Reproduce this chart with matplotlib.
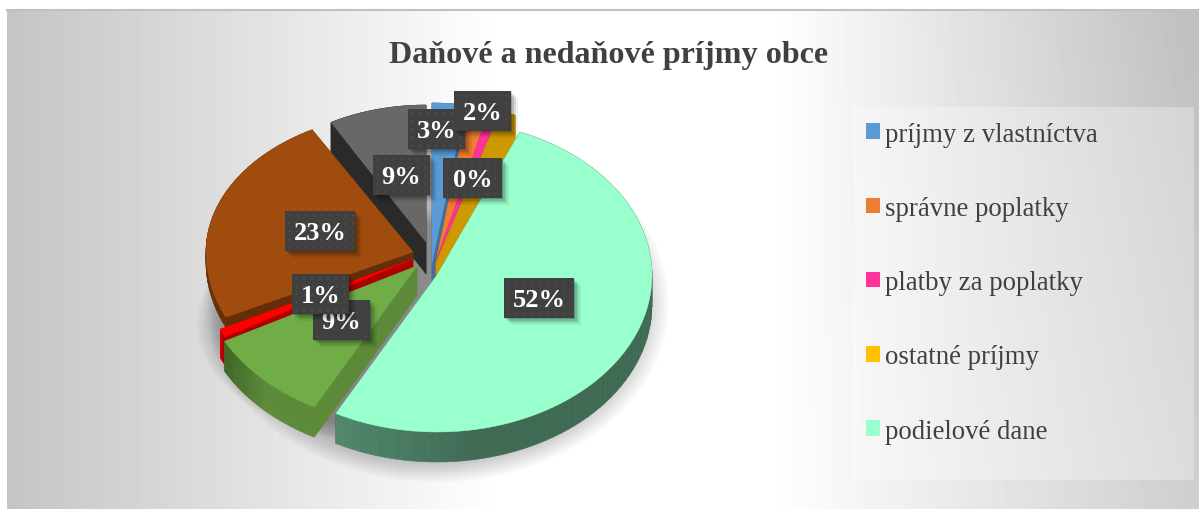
import numpy as np
import matplotlib
matplotlib.use("Agg")
import matplotlib.pyplot as plt
import matplotlib.patches as mpatches
from matplotlib.colors import to_rgb
from matplotlib.patches import Polygon, Rectangle, Ellipse

plt.rcParams['font.family'] = ['Liberation Serif', 'DejaVu Serif']

# clockwise from 12 o'clock, in percent
slice_names = ["vlastnictvo", "spravne", "platby", "ostatne", "podielove", "zelena", "cervena", "hneda", "seda"]
slice_values = [2.6, 1.7, 0.8, 1.2, 51.5, 9.4, 0.8, 23.9, 8.1]

legend_labels = ["príjmy z vlastníctva", "správne poplatky", "platby za poplatky", "ostatné príjmy", "podielové dane"]
legend_colors = ["#5b9bd5", "#ed7d31", "#ff3399", "#ffc000", "#99ffcc"]

label_texts = ["3%", "2%", "0%", "52%", "9%", "1%", "23%", "9%"]

title = "Daňové a nedaňové príjmy obce"

# styles
top_colors = ["#5b9bd5", "#ed7d31", "#ff3399", "#cc9900", "#99ffcc", "#70ad47", "#ff0000", "#a04c0f", "#686868"]
wall_colors = ["#3f6f9c", "#a85820", "#b0246c", "#cc9900", "#3f6b55", "#5c8a38", "#b00000", "#652d08", "#2a2a2a"]
wall_left = ["#3f6f9c", "#a85820", "#b0246c", "#cc9900", "#52896e", "#3f6626", "#d00000", "#652d08", "#2a2a2a"]
# apex of each exploded slice and its radii (x, back y, front y), in pixels
apex_x = [432, 436, 436, 436, 437, 417, 413, 413, 426]
apex_y = [264, 262, 262, 264, 276, 267, 260, 253, 243]
rad_x = [205, 205, 205, 205, 215, 218, 213, 207, 195]
rad_back = [160, 160, 160, 160, 155, 155, 165, 140, 137]
rad_front = [160, 160, 160, 160, 157, 160, 165, 153, 137]
depth = [30, 30, 30, 30, 30, 30, 28, 10, 32]
# left/top corner of each label box, same order as label_texts
box_x = [408, 454, 443, 504, 313, 292, 285, 373]
box_y = [110, 92, 159, 279, 301, 275, 212, 156]
box_w = [57, 57, 59, 70, 57, 57, 70, 57]
box_h = 40
draw_order = [8, 0, 1, 2, 3, 7, 6, 5, 4]

fig = plt.figure(figsize=(11.99, 5.10), dpi=100)
ax = fig.add_axes([0, 0, 1, 1])
ax.axis('off')

# chart area background, light in the middle and grey towards both sides
xx, yy = np.meshgrid(np.arange(7, 1199), np.arange(12, 510))
right = np.clip((xx - 770) / 420.0, 0, 1)
shade = 1 - 0.23 * np.clip((500 - xx) / 493.0, 0, 1) - 0.22 * right
shade = shade - 0.03 * right * np.clip((250 - yy) / 240.0, -1, 1)
ax.imshow(shade, cmap='gray', vmin=0, vmax=1, extent=[7, 1199, 510, 12], aspect='auto', zorder=0)
ax.set_xlim(0, 1199)
ax.set_ylim(510, 0)
ax.plot([7, 1199], [11, 11], color='#c0c0c0', lw=1.5, zorder=1)

# legend panel
ax.add_patch(Rectangle((853, 108), 341, 373, fc='white', ec='none', alpha=0.3, zorder=1))

# soft shadow under the pie
for k in np.linspace(1.0, 0.86, 14):
    ax.add_patch(Ellipse((437, 305), 2 * 232 * k, 2 * 178 * k, fc='black', ec='none', alpha=0.018, zorder=2))
for k in np.linspace(1.0, 0.88, 10):
    ax.add_patch(Ellipse((385, 325), 2 * 188 * k, 2 * 118 * k, fc='black', ec='none', alpha=0.025, zorder=2))

# slices
edges = np.cumsum([0] + slice_values) / sum(slice_values) * 2 * np.pi
z = 3
for i in draw_order:
    t = np.linspace(edges[i], edges[i + 1], 80)
    u = np.sin(t)
    v = -np.cos(t)
    px = apex_x[i] + rad_x[i] * u
    py = apex_y[i] + np.where(v < 0, rad_back[i], rad_front[i]) * v
    ax_, ay_ = apex_x[i], apex_y[i]
    d = depth[i]
    # walls first, the top face hides whatever is behind
    wall = wall_colors[i]
    for a in [0, -1]:
        ax.add_patch(Polygon([(ax_, ay_), (px[a], py[a]), (px[a], py[a] + d), (ax_, ay_ + d)],
                             fc=wall, ec=wall, lw=0.3, zorder=z))
    # outer wall in strips, lighter or darker towards the left end
    c0, c1 = np.array(to_rgb(wall_left[i])), np.array(to_rgb(wall))
    span = max(px.max() - px.min(), 1)
    for j in range(len(t) - 1):
        frac = min((px[j] - px.min()) / span * 2.2, 1)
        col = tuple(c0 + (c1 - c0) * frac)
        ax.add_patch(Polygon([(px[j], py[j]), (px[j + 1], py[j + 1]), (px[j + 1], py[j + 1] + d), (px[j], py[j] + d)],
                             fc=col, ec=col, lw=0.4, zorder=z))
    ax.add_patch(Polygon([(ax_, ay_)] + list(zip(px, py)), fc=top_colors[i], ec=top_colors[i], lw=0.3, zorder=z + 0.5))
    z += 1

# data labels, later ones lie on top of earlier ones
z = 20
for s, x, y, w in zip(label_texts, box_x, box_y, box_w):
    for off, al in [(7, 0.06), (5, 0.1), (3, 0.14), (1, 0.18)]:
        ax.add_patch(Rectangle((x + off, y + off), w, box_h, fc='black', ec='none', alpha=al, zorder=z))
    ax.add_patch(Rectangle((x, y), w, box_h, fc='#404040', ec='none', zorder=z + 0.1))
    # dotted texture of the label box
    gx, gy = np.meshgrid(np.arange(x + 4, x + w, 8), np.arange(y + 4, y + box_h, 8))
    ax.scatter(gx.ravel(), gy.ravel(), s=2, color='#525252', lw=0, zorder=z + 0.15)
    ax.text(x + w / 2, y + box_h / 2 + 2, s, color='white', fontsize=19, fontweight='bold',
            ha='center', va='center', zorder=z + 0.2)
    z += 1
ax.set_xlim(0, 1199)
ax.set_ylim(510, 0)

ax.text(609, 56, title, color='#404040', fontsize=23.1, fontweight='bold', ha='center', va='center', zorder=5)

handles = [mpatches.Patch(fc=c, ec='none', label=l) for c, l in zip(legend_colors, legend_labels)]
leg = ax.legend(handles=handles, loc='upper left', bbox_to_anchor=(866 / 1199, 1 - 122.5 / 510), frameon=False,
                fontsize=19.3, labelcolor='#404040', handlelength=0.52, handleheight=0.52, handletextpad=0.19,
                labelspacing=1.84, borderpad=0, borderaxespad=0)
leg.set_zorder(6)

fig.savefig("out.png", dpi=100)
